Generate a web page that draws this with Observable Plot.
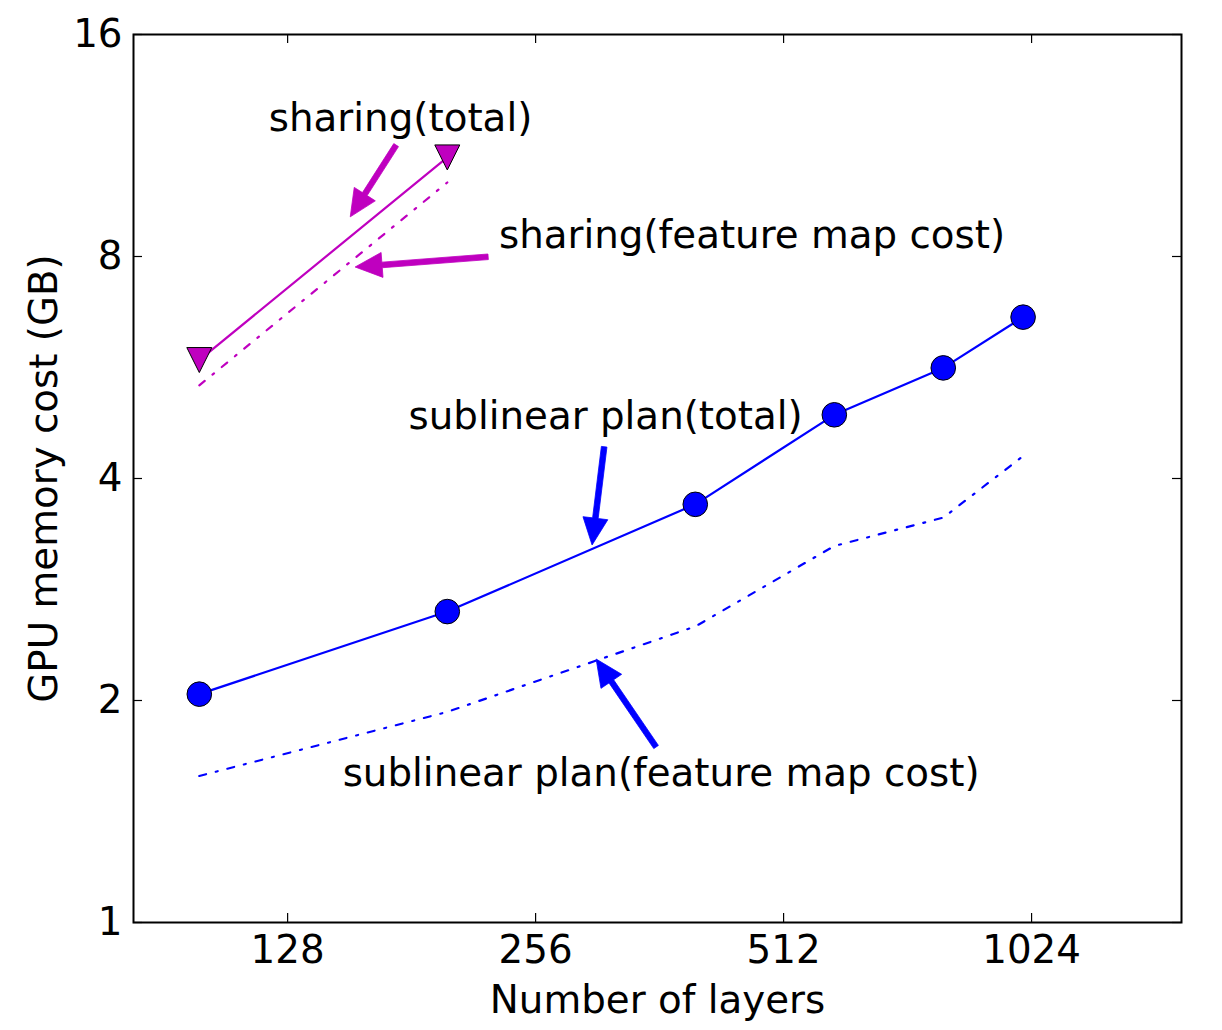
<!DOCTYPE html>
<html>
<head>
<meta charset="utf-8">
<script src="https://cdn.jsdelivr.net/npm/d3@7"></script>
<script src="https://cdn.jsdelivr.net/npm/@observablehq/plot@0.6"></script>
<style>
  html, body { margin: 0; padding: 0; background: white; }
  #chart { width: 1222px; height: 1030px; }
</style>
</head>
<body>
<div id="chart"></div>
<script>
// ---- data ----
const layers = [100, 200, 400, 590, 800, 1000];
const sublinearTotal = [2.04, 2.64, 3.69, 4.88, 5.65, 6.62];
const sublinearFeature = [1.58, 1.93, 2.52, 3.24, 3.54, 4.29];
const sharingLayers = [100, 200];
const sharingTotal = [5.79, 10.9];
const sharingFeature = [5.35, 10.08];

const xTicks = [128, 256, 512, 1024];
const yTicks = [1, 2, 4, 8, 16];

// annotations (data coordinates)
const annotText = ["sharing(total)", "sharing(feature map cost)", "sublinear plan(total)", "sublinear plan(feature map cost)"];
const annotX = [175.5, 468.8, 311.3, 363.6];
const annotY = [12.31, 8.54, 4.85, 1.592];

const arrowTailX = [173.6, 224.5, 310.5, 359];
const arrowTailY = [11.31, 7.98, 4.41, 1.727];
const arrowTipX = [152.7, 154.8, 300.2, 303.6];
const arrowTipY = [9.04, 7.73, 3.245, 2.273];
const arrowColor = ["#bf00bf", "#bf00bf", "#0000ff", "#0000ff"];

const BLUE = "#0000ff", MAGENTA = "#bf00bf";
const FS = 38.8;

const triDown = {
  draw(ctx, size) {
    const r = Math.sqrt(size / Math.PI);
    ctx.moveTo(-r, -r);
    ctx.lineTo(r, -r);
    ctx.lineTo(0, r);
    ctx.closePath();
  }
};

function arrowsMark(index, scales, values, dimensions, context) {
  const g = d3.create("svg:g");
  for (let i = 0; i < arrowTailX.length; i++) {
    const x1 = scales.x(arrowTailX[i]), y1 = scales.y(arrowTailY[i]);
    const x2 = scales.x(arrowTipX[i]), y2 = scales.y(arrowTipY[i]);
    const dx = x2 - x1, dy = y2 - y1, L = Math.hypot(dx, dy);
    const ux = dx / L, uy = dy / L, px = -uy, py = ux;
    const hw = 2.8, HW = 12.5, HL = 27;
    const bx = x2 - ux * HL, by = y2 - uy * HL;
    const pts = [
      [x1 + px * hw, y1 + py * hw],
      [bx + px * hw, by + py * hw],
      [bx + px * HW, by + py * HW],
      [x2, y2],
      [bx - px * HW, by - py * HW],
      [bx - px * hw, by - py * hw],
      [x1 - px * hw, y1 - py * hw]
    ];
    g.append("path")
      .attr("d", "M" + pts.map(p => p.join(",")).join("L") + "Z")
      .attr("fill", arrowColor[i])
      .attr("stroke", arrowColor[i])
      .attr("stroke-width", 0.8);
  }
  return g.node();
}

const innerW = 1222 - 133 - 41;
const innerH = 1030 - 34 - 108;
const TICK = 9;

const chart = Plot.plot({
  width: 1222,
  height: 1030,
  marginTop: 34,
  marginRight: 41,
  marginBottom: 108,
  marginLeft: 133,
  style: { fontFamily: "'DejaVu Sans', sans-serif", background: "white", color: "black" },
  x: { type: "log", base: 2, domain: [83.2, 1557] },
  y: { type: "log", base: 2, domain: [1, 16] },
  marks: [
    // tick labels
    Plot.axisX(xTicks, { tickSize: 0, tickPadding: 13, tickFormat: d => String(d), fontSize: FS, label: null }),
    Plot.axisY(yTicks, { tickSize: 0, tickPadding: 11, tickFormat: d => String(d), fontSize: FS, label: null }),
    // inward ticks on all four sides
    Plot.tickX(xTicks, { x: d => d, insetTop: innerH - TICK, stroke: "black", strokeWidth: 1.2 }),
    Plot.tickX(xTicks, { x: d => d, insetBottom: innerH - TICK, stroke: "black", strokeWidth: 1.2 }),
    Plot.tickY(yTicks, { y: d => d, insetRight: innerW - TICK, stroke: "black", strokeWidth: 1.2 }),
    Plot.tickY(yTicks, { y: d => d, insetLeft: innerW - TICK, stroke: "black", strokeWidth: 1.2 }),
    // axis titles
    Plot.text(["Number of layers"], { frameAnchor: "bottom", dy: 78, fontSize: FS, fill: "black", textAnchor: "middle", lineAnchor: "middle" }),
    Plot.text(["GPU memory cost (GB)"], { frameAnchor: "left", dx: -89, rotate: -90, fontSize: FS, fill: "black", textAnchor: "middle", lineAnchor: "middle" }),
    // series
    Plot.line(sharingLayers, { x: sharingLayers, y: sharingFeature, stroke: MAGENTA, strokeWidth: 2.2, strokeDasharray: "7,10,2,10" }),
    Plot.line(sharingLayers, { x: sharingLayers, y: sharingTotal, stroke: MAGENTA, strokeWidth: 2.2 }),
    Plot.dot(sharingLayers, { x: sharingLayers, y: sharingTotal, symbol: triDown, r: 12.5, fill: MAGENTA, stroke: "black", strokeWidth: 1 }),
    Plot.line(layers, { x: layers, y: sublinearFeature, stroke: BLUE, strokeWidth: 2.2, strokeDasharray: "7,10,2,10" }),
    Plot.line(layers, { x: layers, y: sublinearTotal, stroke: BLUE, strokeWidth: 2.2 }),
    Plot.dot(layers, { x: layers, y: sublinearTotal, r: 12.3, fill: BLUE, stroke: "black", strokeWidth: 1 }),
    // annotations
    Plot.text(annotText, { x: annotX, y: annotY, text: d => d, fontSize: FS, fill: "black", textAnchor: "middle" }),
    arrowsMark,
    Plot.frame({ stroke: "black", strokeWidth: 2 })
  ]
});

document.getElementById("chart").appendChild(chart);
</script>
</body>
</html>
